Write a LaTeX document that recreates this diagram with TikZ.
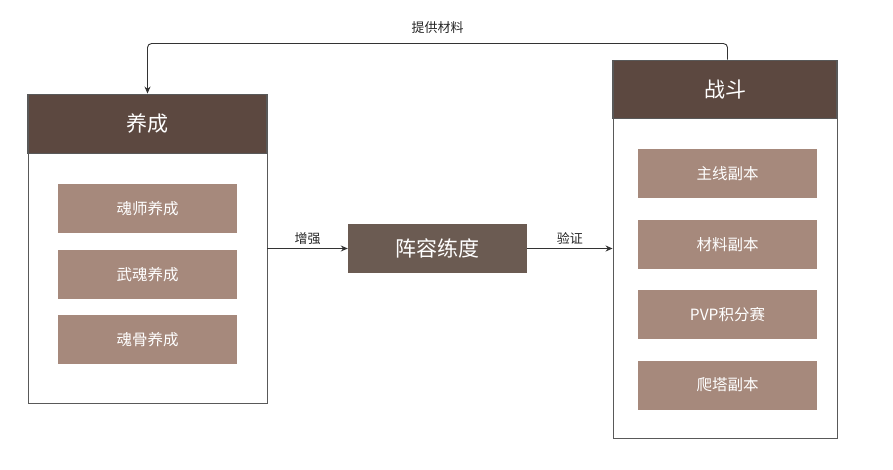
\documentclass[tikz,border=0pt]{standalone}
\usepackage{fontspec}
\setmainfont{Noto Sans CJK SC}
\usetikzlibrary{arrows.meta,positioning,calc}

\definecolor{headbrown}{HTML}{5C4840}
\definecolor{itembrown}{HTML}{A6897C}
\definecolor{corebrown}{HTML}{6B5B52}
\definecolor{edgegray}{HTML}{595959}

\begin{document}
\begin{tikzpicture}[
  x=1pt, y=-1pt,
  panel/.style={rectangle, draw=edgegray, line width=0.9pt, fill=white, inner sep=0pt},
  header/.style={rectangle, draw=edgegray, line width=1.6pt, fill=headbrown, text=white, inner sep=0pt, font=\fontsize{21}{25}\selectfont},
  item/.style={rectangle, fill=itembrown, text=white, minimum width=179pt, minimum height=49pt, inner sep=0pt, font=\fontsize{15.5}{18}\selectfont},
  core/.style={rectangle, fill=corebrown, text=white, minimum width=179pt, minimum height=49pt, inner sep=0pt, font=\fontsize{21}{25}\selectfont},
  lbl/.style={text=black!85, font=\fontsize{13}{15}\selectfont}
]

\useasboundingbox (0,0) rectangle (893,470);

% left panel
\node[panel, minimum width=239pt, minimum height=309pt] (grow) at (147.5,248.5) {};
\node[header, minimum width=239pt, minimum height=59pt, below=0pt of grow.north] (grow_head) {养成};

\node[item, below=30pt of grow_head] (soul) {魂师养成};
\node[item, below=16pt of soul] (spirit) {武魂养成};
\node[item, below=16pt of spirit] (bone) {魂骨养成};

% centre
\node[core] (team) at (437.5,248.5) {阵容练度};

% right panel
\node[panel, minimum width=224pt, minimum height=378pt] (fight) at (725,249) {};
\node[header, minimum width=224pt, minimum height=58pt, below=0pt of fight.north] (fight_head) {战斗};

\node[item, below=30pt of fight_head, xshift=2.5pt] (main) {主线副本};
\node[item, below=21pt of main] (mat) {材料副本};
\node[item, below=21pt of mat] (pvp) {PVP积分赛};
\node[item, below=21pt of pvp] (tower) {爬塔副本};

\draw[->, >={Stealth[length=7pt,width=6pt]}, black!80, line width=0.9pt] (grow.east |- team.west) -- node[above, lbl] {增强} (team.west);
\draw[->, >={Stealth[length=7pt,width=6pt]}, black!80, line width=0.9pt] (team.east) -- node[above, lbl] {验证} (fight.west |- team.east);
\draw[->, >={Stealth[length=7pt,width=6pt]}, black!80, line width=0.9pt, rounded corners=4pt] (main.north |- fight.north) -- ++(0,-16) -| node[pos=0.25, above=6pt, lbl] {提供材料} (grow.north);

\end{tikzpicture}
\end{document}
